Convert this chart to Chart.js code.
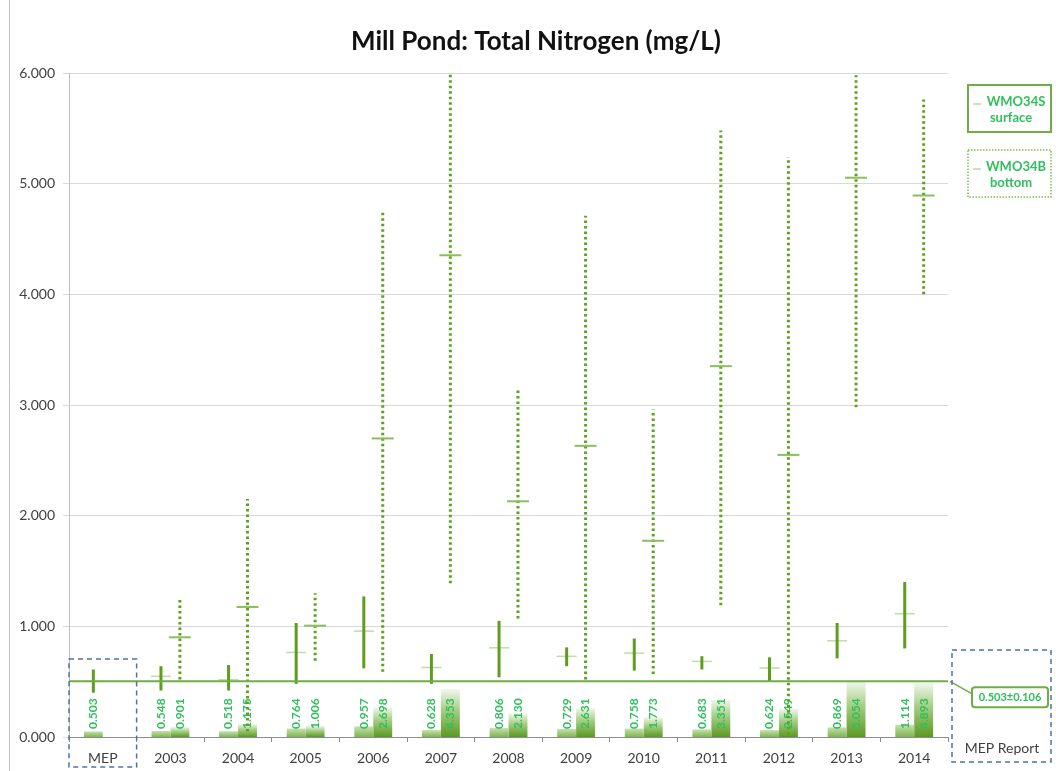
<!DOCTYPE html>
<html><head><meta charset="utf-8">
<script src="https://cdn.jsdelivr.net/npm/chart.js@4.4.1/dist/chart.umd.min.js"></script>
<style>html,body{margin:0;padding:0;background:#fff;}canvas{display:block;}</style>
</head><body>
<canvas id="c" width="1056" height="771"></canvas>
<script>
// ---- data ----
const categories = ['MEP','2003','2004','2005','2006','2007','2008','2009','2010','2011','2012','2013','2014'];
const surfaceMean = [0.503,0.548,0.518,0.764,0.957,0.628,0.806,0.729,0.758,0.683,0.624,0.869,1.114];
const surfaceMin  = [0.40,0.42,0.42,0.48,0.62,0.48,0.54,0.64,0.60,0.61,0.50,0.71,0.80];
const surfaceMax  = [0.61,0.64,0.65,1.03,1.27,0.75,1.05,0.81,0.89,0.73,0.72,1.03,1.40];
const bottomMean  = [null,0.901,1.175,1.006,2.698,4.353,2.130,2.631,1.773,3.351,2.549,5.054,4.893];
const bottomMin   = [null,0.52,0.05,0.69,0.59,1.39,1.07,0.52,0.57,1.19,0.02,2.98,4.00];
const bottomMax   = [null,1.25,2.15,1.30,4.76,6.00,3.15,4.71,2.96,5.48,5.24,5.98,5.76];
const yTicks = [0,1,2,3,4,5,6];
const mepReference = 0.503;
const mepSd = 0.106;
const titleText = 'Mill Pond: Total Nitrogen (mg/L)';
const legendItems = [['WMO34S','surface'],['WMO34B','bottom']];
const reportLabel = 'MEP Report';

const GREEN_TXT = '#2fbf5c';
const LINE_GREEN = '#5e9e1c';
const REF_GREEN = '#70ad47';

function barGradient(ctx, dark) {
  const chart = ctx.chart;
  if (!chart.chartArea || ctx.raw == null) return 'rgba(0,0,0,0)';
  const s = chart.scales.y2;
  const base = s.getPixelForValue(0), top = s.getPixelForValue(ctx.raw);
  const g = chart.ctx.createLinearGradient(0, base, 0, Math.min(top, base - 1));
  if (dark) {
    g.addColorStop(0, '#5b9a22'); g.addColorStop(0.55, '#a3cd82'); g.addColorStop(1, '#f2f8ed');
  } else {
    g.addColorStop(0, '#7fb54f'); g.addColorStop(1, '#c6e0b0');
  }
  return g;
}

const overlay = {
  id: 'overlay',
  beforeDraw(chart) {
    const ctx = chart.ctx;
    ctx.save();
    ctx.fillStyle = '#111'; ctx.font = 'bold 26px Lato';
    ctx.textAlign = 'center'; ctx.textBaseline = 'middle';
    ctx.fillText(titleText, 536, 42);
    ctx.restore();
  },
  afterDatasetsDraw(chart) {
    const ctx = chart.ctx, y = chart.scales.y, ca = chart.chartArea;
    const mS = chart.getDatasetMeta(0), mB = chart.getDatasetMeta(1);
    ctx.save();
    // value labels (rotated)
    ctx.font = 'bold 12px Lato';
    ctx.fillStyle = GREEN_TXT; ctx.textAlign = 'left'; ctx.textBaseline = 'middle';
    const vlabel = (x, v) => {
      ctx.save(); ctx.translate(x, ca.bottom - 8); ctx.rotate(-Math.PI / 2);
      ctx.fillText(v.toFixed(3), 0, 0); ctx.restore();
    };
    categories.forEach((c, i) => {
      vlabel(mS.data[i].x, surfaceMean[i]);
      if (bottomMean[i] != null) vlabel(mB.data[i].x, bottomMean[i]);
    });
    ctx.beginPath(); ctx.rect(ca.left, ca.top - 1, ca.right - ca.left, ca.bottom - ca.top + 1); ctx.clip();
    // surface ranges
    categories.forEach((c, i) => {
      const x = mS.data[i].x;
      const ym = y.getPixelForValue(surfaceMean[i]);
      ctx.strokeStyle = '#bedca6'; ctx.lineWidth = 1.5; ctx.setLineDash([]);
      ctx.beginPath(); ctx.moveTo(x - 10, ym); ctx.lineTo(x + 10, ym); ctx.stroke();
      ctx.strokeStyle = LINE_GREEN; ctx.lineWidth = 3;
      ctx.beginPath(); ctx.moveTo(x, y.getPixelForValue(surfaceMin[i])); ctx.lineTo(x, y.getPixelForValue(surfaceMax[i])); ctx.stroke();
    });
    // bottom ranges (dotted)
    categories.forEach((c, i) => {
      if (bottomMean[i] == null) return;
      const x = mB.data[i].x;
      ctx.strokeStyle = '#5fa11f'; ctx.lineWidth = 3; ctx.setLineDash([2.5, 3]);
      ctx.beginPath(); ctx.moveTo(x, y.getPixelForValue(bottomMin[i])); ctx.lineTo(x, y.getPixelForValue(bottomMax[i])); ctx.stroke();
      ctx.setLineDash([]);
      const ym = y.getPixelForValue(bottomMean[i]);
      ctx.strokeStyle = '#8bbf5e'; ctx.lineWidth = 2;
      ctx.beginPath(); ctx.moveTo(x - 11, ym); ctx.lineTo(x + 11, ym); ctx.stroke();
    });
    ctx.restore();
    // reference line
    ctx.save();
    const yr = y.getPixelForValue(mepReference);
    ctx.strokeStyle = REF_GREEN; ctx.lineWidth = 2;
    ctx.beginPath(); ctx.moveTo(ca.left, yr); ctx.lineTo(ca.right, yr); ctx.stroke();
    ctx.lineWidth = 1.5;
    ctx.beginPath(); ctx.moveTo(ca.right + 2, yr); ctx.lineTo(ca.right + 25, yr + 13); ctx.stroke();
    // ref label box
    const bx = ca.right + 24, by = yr + 6, bw = 76, bh = 20;
    ctx.fillStyle = '#fff'; ctx.lineWidth = 2; ctx.strokeStyle = REF_GREEN;
    ctx.beginPath(); ctx.roundRect(bx, by, bw, bh, 3); ctx.fill(); ctx.stroke();
    ctx.fillStyle = GREEN_TXT; ctx.font = 'bold 11px Lato'; ctx.textAlign = 'center'; ctx.textBaseline = 'middle';
    ctx.fillText(mepReference.toFixed(3) + '\u00b1' + mepSd.toFixed(3), bx + bw / 2, by + bh / 2 + 0.5);
    ctx.restore();
  },
  afterDraw(chart) {
    const ctx = chart.ctx, ca = chart.chartArea, x = chart.scales.x;
    ctx.save();
    // outer left frame
    ctx.strokeStyle = '#bfbfbf'; ctx.lineWidth = 1;
    ctx.beginPath(); ctx.moveTo(9.5, 0); ctx.lineTo(9.5, 771); ctx.stroke();
    // dashed boxes
    ctx.strokeStyle = '#4f71a6'; ctx.lineWidth = 1.5; ctx.setLineDash([5, 4]);
    const half = (x.getPixelForValue(1) - x.getPixelForValue(0)) / 2;
    const x0 = x.getPixelForValue(0);
    ctx.strokeRect(x0 - half, 659, half * 2, 108);
    ctx.strokeRect(ca.right + 4, 650, 99, 112);
    ctx.setLineDash([]);
    ctx.fillStyle = '#404040'; ctx.font = '14px Lato'; ctx.textAlign = 'center'; ctx.textBaseline = 'middle';
    ctx.fillText(reportLabel, ca.right + 54, 748);
    // legend
    legendItems.forEach((it, k) => {
      const lx = 968, ly = 85 + k * 65, lw = 83, lh = 47;
      ctx.strokeStyle = REF_GREEN;
      if (k === 0) { ctx.lineWidth = 2; ctx.setLineDash([]); }
      else { ctx.lineWidth = 1.5; ctx.setLineDash([1.5, 1.5]); ctx.strokeStyle = '#7fbf4a'; }
      ctx.strokeRect(lx, ly, lw, lh);
      ctx.setLineDash([]);
      ctx.strokeStyle = '#b9d99f'; ctx.lineWidth = 1.5;
      ctx.beginPath(); ctx.moveTo(lx + 5, ly + 19); ctx.lineTo(lx + 13, ly + 19); ctx.stroke();
      ctx.fillStyle = GREEN_TXT; ctx.font = 'bold 13px Lato'; ctx.textAlign = 'center';
      ctx.fillText(it[0], lx + 48, ly + 17);
      ctx.fillText(it[1], lx + 43, ly + 33);
    });
    ctx.restore();
  }
};

function build() {
  Chart.defaults.font.family = 'Lato';
  new Chart(document.getElementById('c'), {
    type: 'bar',
    data: {
      labels: categories,
      datasets: [
        { label: 'WMO34S surface', data: surfaceMean, yAxisID: 'y2', backgroundColor: c => barGradient(c, false), borderWidth: 0 },
        { label: 'WMO34B bottom', data: bottomMean, yAxisID: 'y2', backgroundColor: c => barGradient(c, true), borderWidth: 0 }
      ]
    },
    options: {
      responsive: false, animation: false,
      layout: { padding: { left: 10, right: 108, top: 73, bottom: 4 } },
      datasets: { bar: { barPercentage: 1, categoryPercentage: 0.56 } },
      plugins: {
        legend: { display: false }, tooltip: { enabled: false }, title: { display: false }
      },
      scales: {
        x: {
          offset: true,
          grid: { display: true, drawOnChartArea: false, offset: true, tickLength: 5, color: '#8c8c8c' },
          border: { color: '#8c8c8c', width: 1 },
          ticks: { color: '#404040', font: { size: 14 }, padding: 8, maxRotation: 0 },
          afterFit: s => { s.height = 30; }
        },
        y: {
          min: 0, max: 6,
          afterBuildTicks: s => { s.ticks = yTicks.map(v => ({ value: v })); },
          grid: { color: '#d9d9d9', tickLength: 6, lineWidth: 1 },
          border: { color: '#bfbfbf' },
          ticks: { color: '#404040', font: { size: 14 }, padding: 8, callback: v => Number(v).toFixed(3) },
          afterFit: s => { s.width = 59; }
        },
        y2: { display: false, min: 0, max: 60 }
      }
    },
    plugins: [overlay]
  });
}
Promise.race([
  Promise.all([document.fonts.load('14px Lato'), document.fonts.load('bold 14px Lato')]),
  new Promise(r => setTimeout(r, 800))
]).then(build, build);
</script>
</body></html>
